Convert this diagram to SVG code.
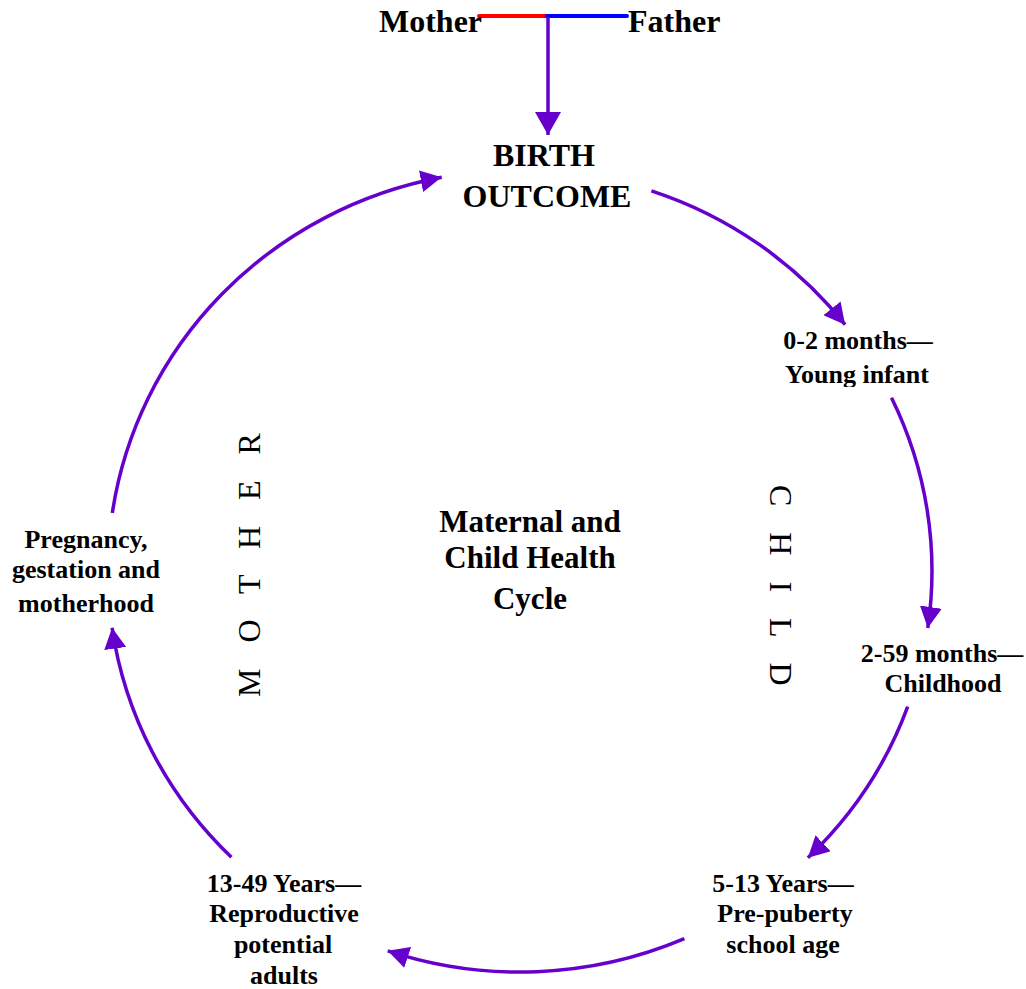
<svg xmlns="http://www.w3.org/2000/svg" width="1026" height="989" viewBox="0 0 1026 989">
  <style>
    .lbl { font-family: "Liberation Serif", "Times New Roman", serif; font-weight: bold; font-size: 26px; fill: #000; text-anchor: middle; }
    .big { font-size: 32px; }
    .ctr { font-size: 31px; }
    .vert { font-family: "Liberation Serif", "Times New Roman", serif; font-weight: normal; font-size: 32px; fill: #000; letter-spacing: 9px; }
    .arc { fill: none; stroke: #6600cc; stroke-width: 3.5; marker-end: url(#ah); }
  </style>
  <defs>
    <marker id="ah" markerUnits="userSpaceOnUse" markerWidth="22" markerHeight="22" refX="21" refY="11" orient="auto">
      <path d="M0,0 L21,11 L0,22 Z" fill="#6600cc"/>
    </marker>
    <marker id="ahBig" markerUnits="userSpaceOnUse" markerWidth="24" markerHeight="26" refX="23" refY="13" orient="auto">
      <path d="M0,0 L23,13 L0,26 Z" fill="#6600cc"/>
    </marker>
    <clipPath id="clipYoung">
      <rect x="700" y="350" width="300" height="37"/>
    </clipPath>
  </defs>

  <g id="connectors">
    <line x1="479" y1="16" x2="547" y2="16" stroke="#ff0000" stroke-width="4" stroke-linecap="round"/>
    <line x1="547" y1="16" x2="627" y2="16" stroke="#0000ff" stroke-width="4" stroke-linecap="round"/>
    <line x1="548" y1="17" x2="548" y2="135" stroke="#6600cc" stroke-width="3.5" marker-end="url(#ahBig)"/>
    <path class="arc" d="M651.4,190.9 A412,401 0 0 1 845.1,324.7"/>
    <path class="arc" d="M891.5,397.7 A412,401 0 0 1 927.8,627.9"/>
    <path class="arc" d="M907.7,706.6 A412,401 0 0 1 807.9,857.8"/>
    <path class="arc" d="M684.4,938.7 A412,401 0 0 1 387.7,950.8"/>
    <path class="arc" d="M231.4,857.2 A412,401 0 0 1 112.1,627.7"/>
    <path class="arc" d="M112.3,513.1 A412,401 0 0 1 441.7,177.3"/>
  </g>

  <g id="parents">
    <text class="lbl big" x="379" y="32" style="text-anchor:start">Mother</text>
    <text class="lbl big" x="628" y="32" style="text-anchor:start">Father</text>
  </g>

  <g id="birth">
    <text class="lbl big" x="544" y="166">BIRTH</text>
    <text class="lbl big" x="547" y="207">OUTCOME</text>
  </g>

  <g id="young-infant">
    <text class="lbl" x="858" y="349">0-2 months—</text>
    <text class="lbl" x="857" y="383" clip-path="url(#clipYoung)">Young infant</text>
  </g>

  <g id="childhood">
    <text class="lbl" x="942" y="662">2-59 months—</text>
    <text class="lbl" x="943" y="692">Childhood</text>
  </g>

  <g id="school-age">
    <text class="lbl" x="783" y="892">5-13 Years—</text>
    <text class="lbl" x="785" y="922">Pre-puberty</text>
    <text class="lbl" x="783" y="953">school age</text>
  </g>

  <g id="reproductive">
    <text class="lbl" x="284" y="892">13-49 Years—</text>
    <text class="lbl" x="284" y="922">Reproductive</text>
    <text class="lbl" x="283" y="953">potential</text>
    <text class="lbl" x="284" y="984">adults</text>
  </g>

  <g id="pregnancy">
    <text class="lbl" x="86" y="548">Pregnancy,</text>
    <text class="lbl" x="86" y="578">gestation and</text>
    <text class="lbl" x="86" y="612">motherhood</text>
  </g>

  <g id="center-title">
    <text class="lbl ctr" x="530" y="532">Maternal and</text>
    <text class="lbl ctr" x="530" y="568">Child Health</text>
    <text class="lbl ctr" x="530" y="609">Cycle</text>
  </g>

  <g id="mother-label">
    <text class="vert" transform="translate(260,697) rotate(-90)" x="0" y="0">M O T H E R</text>
  </g>

  <g id="child-label">
    <text class="vert" transform="translate(770,485) rotate(90)" x="0" y="0">C H I L D</text>
  </g>
</svg>
